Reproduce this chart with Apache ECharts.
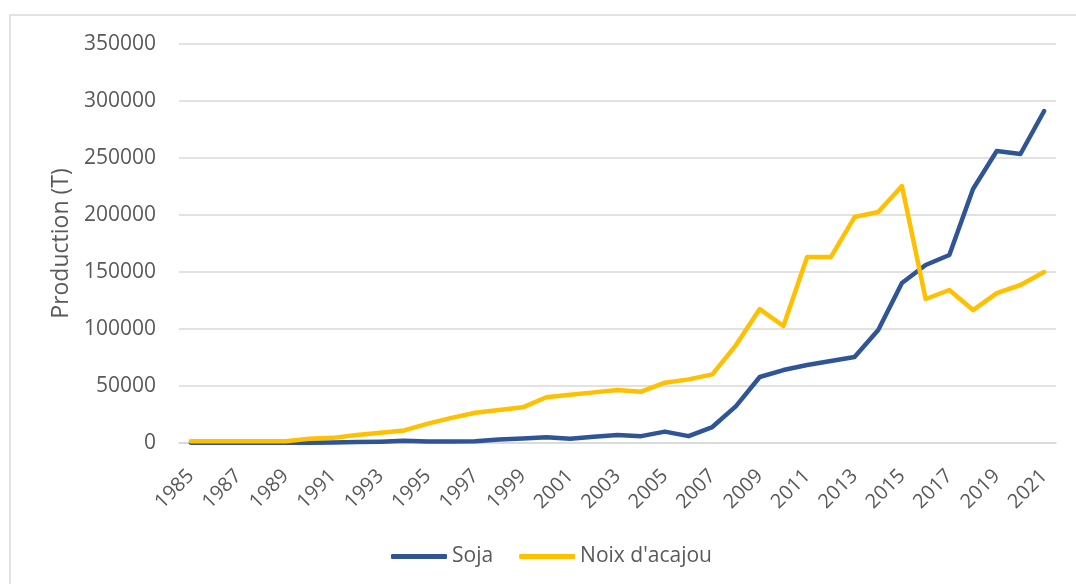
<!DOCTYPE html>
<html>
<head>
<meta charset="utf-8">
<script src="https://cdn.jsdelivr.net/npm/echarts@6/dist/echarts.min.js"></script>
<style>
  html, body { margin: 0; padding: 0; background: #fff; }
  #chart { width: 1076px; height: 584px; }
</style>
</head>
<body>
<div id="chart"></div>
<script>
const years = ['1985', '1986', '1987', '1988', '1989', '1990', '1991', '1992', '1993', '1994',
  '1995', '1996', '1997', '1998', '1999', '2000', '2001', '2002', '2003', '2004',
  '2005', '2006', '2007', '2008', '2009', '2010', '2011', '2012', '2013', '2014',
  '2015', '2016', '2017', '2018', '2019', '2020', '2021'];

const soja = [200, 200, 200, 200, 200, 300, 500, 800, 1200, 2000,
  1300, 1300, 1500, 3000, 4000, 5000, 3800, 5500, 7000, 6000,
  10000, 6000, 14000, 32400, 57900, 64000, 68400, 71900, 75400, 99100,
  140300, 156100, 164900, 222800, 256100, 253500, 291200];

const noixAcajou = [1500, 1500, 1500, 1500, 1500, 3800, 4500, 7000, 9000, 11000,
  17000, 22000, 26500, 28900, 31300, 40100, 42400, 44400, 46500, 45000,
  52900, 55800, 60200, 85900, 117500, 102600, 163100, 163100, 198200, 202600,
  225400, 126300, 134200, 116600, 131500, 138600, 150000];

const textColor = '#595959';
const gridColor = '#d9d9d9';
const fontFamily = '"Open Sans", "Noto Sans", sans-serif';

const chart = echarts.init(document.getElementById('chart'));

chart.setOption({
  animation: false,
  textStyle: { fontFamily: fontFamily, color: textColor },
  graphic: [{
    type: 'rect',
    shape: { x: 10, y: 15, width: 1100, height: 620 },
    style: { fill: 'none', stroke: gridColor, lineWidth: 1.5 },
    silent: true
  }],
  grid: { left: 179, right: 20, top: 44, bottom: 141 },
  legend: {
    left: 386,
    top: 541,
    itemWidth: 56,
    itemHeight: 5,
    itemGap: 26,
    icon: 'roundRect',
    textStyle: { fontSize: 21, color: textColor, fontFamily: fontFamily },
    data: ['Soja', "Noix d'acajou"]
  },
  xAxis: {
    type: 'category',
    data: years,
    boundaryGap: true,
    axisLine: { lineStyle: { color: gridColor, width: 1.5 } },
    axisTick: { show: false },
    axisLabel: {
      interval: 1,
      rotate: 45,
      margin: 30,
      fontSize: 20,
      color: textColor
    }
  },
  yAxis: {
    type: 'value',
    min: 0,
    max: 350000,
    interval: 50000,
    name: 'Production (T)',
    nameLocation: 'middle',
    nameGap: 106,
    nameTextStyle: { fontSize: 23, color: textColor },
    axisLine: { show: false },
    axisTick: { show: false },
    axisLabel: {
      fontSize: 21,
      margin: 23,
      color: textColor,
      formatter: function (v) { return String(v); }
    },
    splitLine: { lineStyle: { color: gridColor, width: 1.5 } }
  },
  series: [
    {
      name: 'Soja',
      type: 'line',
      data: soja,
      showSymbol: false,
      symbol: 'none',
      itemStyle: { color: '#2f5597' },
      lineStyle: { color: '#2f5597', width: 4.5, cap: 'round', join: 'round' }
    },
    {
      name: "Noix d'acajou",
      type: 'line',
      data: noixAcajou,
      showSymbol: false,
      symbol: 'none',
      itemStyle: { color: '#ffc000' },
      lineStyle: { color: '#ffc000', width: 4.5, cap: 'round', join: 'round' }
    }
  ]
});
</script>
</body>
</html>
